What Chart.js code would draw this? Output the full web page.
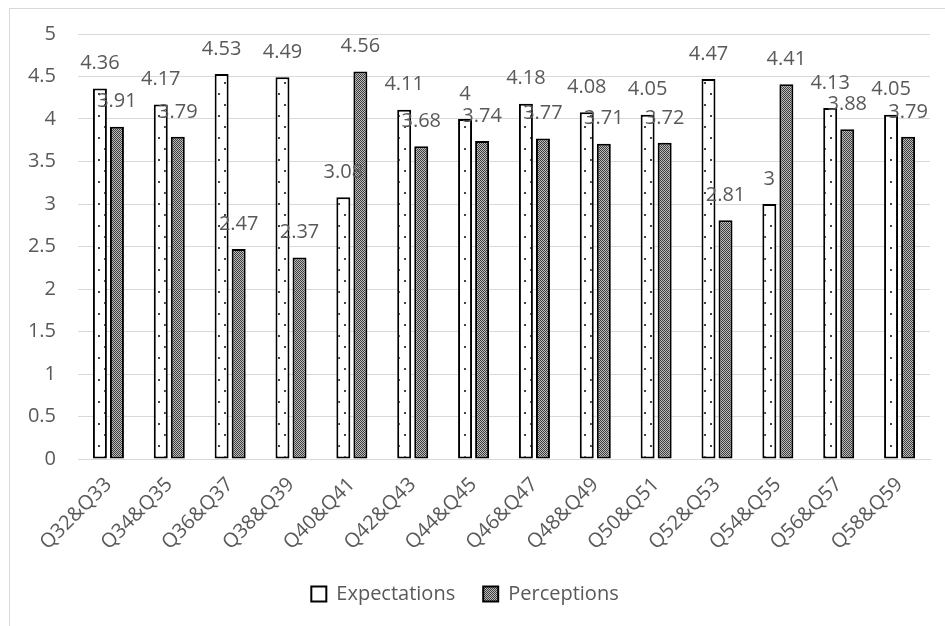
<!DOCTYPE html>
<html>
<head>
<meta charset="utf-8">
<script src="https://cdn.jsdelivr.net/npm/chart.js@4/dist/chart.umd.min.js"></script>
<style>
    body { margin: 0; background: #fff; }
    #wrap { position: relative; width: 945px; height: 626px; }
    #frame { position: absolute; left: 9px; top: 8px; width: 960px; height: 640px; border: 1px solid #d9d9d9; }
    canvas { position: absolute; left: 0; top: 0; }
</style>
</head>
<body>
<div id="wrap">
    <div id="frame"></div>
    <canvas id="myChart" width="945" height="626"></canvas>
</div>
<script>
const categories = ['Q32&Q33', 'Q34&Q35', 'Q36&Q37', 'Q38&Q39', 'Q40&Q41', 'Q42&Q43', 'Q44&Q45',
    'Q46&Q47', 'Q48&Q49', 'Q50&Q51', 'Q52&Q53', 'Q54&Q55', 'Q56&Q57', 'Q58&Q59'];
const expectations = [4.36, 4.17, 4.53, 4.49, 3.08, 4.11, 4, 4.18, 4.08, 4.05, 4.47, 3, 4.13, 4.05];
const perceptions = [3.91, 3.79, 2.47, 2.37, 4.56, 3.68, 3.74, 3.77, 3.71, 3.72, 2.81, 4.41, 3.88, 3.79];
const yTicks = [0, 0.5, 1, 1.5, 2, 2.5, 3, 3.5, 4, 4.5, 5];

const FONT = "'Open Sans', sans-serif";
const TEXT = '#595959';

// sparse dots on white
function dotPattern() {
    const c = document.createElement('canvas');
    c.width = 12; c.height = 22;
    const g = c.getContext('2d');
    g.fillStyle = '#fff';
    g.fillRect(0, 0, 12, 22);
    g.fillStyle = '#444';
    g.fillRect(2, 5, 2, 2);
    g.fillRect(8, 16, 2, 2);
    return g.createPattern(c, 'repeat');
}

// fine gray checker
function checkerPattern() {
    const c = document.createElement('canvas');
    c.width = 2; c.height = 2;
    const g = c.getContext('2d');
    g.fillStyle = '#bdbdbd';
    g.fillRect(0, 0, 2, 2);
    g.fillStyle = '#3c3c3c';
    g.fillRect(0, 0, 1, 1);
    g.fillRect(1, 1, 1, 1);
    return g.createPattern(c, 'repeat');
}

// value labels above each bar
const valueLabels = {
    id: 'valueLabels',
    afterDatasetsDraw(chart) {
        const ctx = chart.ctx;
        ctx.save();
        ctx.font = '20px ' + FONT;
        ctx.fillStyle = TEXT;
        ctx.textAlign = 'center';
        ctx.textBaseline = 'middle';
        chart.data.datasets.forEach((ds, i) => {
            chart.getDatasetMeta(i).data.forEach((bar, j) => {
                ctx.fillText(String(ds.data[j]), bar.x, bar.y - 25);
            });
        });
        ctx.restore();
    }
};

const ctx = document.getElementById('myChart').getContext('2d');
const myChart = new Chart(ctx, {
    type: 'bar',
    data: {
        labels: categories,
        datasets: [{
            label: 'Expectations',
            data: expectations,
            backgroundColor: dotPattern(),
            borderColor: '#000',
            borderWidth: 2,
            borderSkipped: false,
            barPercentage: 0.82,
            categoryPercentage: 0.56
        },
        {
            label: 'Perceptions',
            data: perceptions,
            backgroundColor: checkerPattern(),
            borderColor: '#000',
            borderWidth: 2,
            borderSkipped: false,
            barPercentage: 0.82,
            categoryPercentage: 0.56
        }]
    },
    options: {
        responsive: false,
        animation: false,
        layout: { padding: { left: 0, right: 15, top: 22, bottom: 12 } },
        plugins: {
            tooltip: { enabled: false },
            legend: {
                position: 'bottom',
                labels: {
                    font: { family: FONT, size: 20 },
                    color: TEXT,
                    boxWidth: 15,
                    boxHeight: 15,
                    padding: 28,
                    generateLabels: (chart) => {
                        const items = Chart.defaults.plugins.legend.labels.generateLabels(chart);
                        items[0].fillStyle = '#fff'; // plain box for Expectations
                        return items;
                    }
                }
            }
        },
        scales: {
            x: {
                grid: { display: false },
                border: { color: '#d9d9d9', width: 1 },
                ticks: {
                    font: { family: FONT, size: 20 },
                    color: TEXT,
                    minRotation: 45,
                    maxRotation: 45,
                    padding: 6
                },
                afterFit: (scale) => { scale.height = 97; }
            },
            y: {
                min: 0,
                max: 5,
                afterBuildTicks: (scale) => { scale.ticks = yTicks.map(v => ({ value: v })); },
                grid: { color: '#d9d9d9', lineWidth: 1, drawTicks: false },
                border: { display: false },
                ticks: {
                    font: { family: FONT, size: 20 },
                    color: TEXT,
                    padding: 22,
                    callback: (v) => String(v)
                },
                afterFit: (scale) => { scale.width = 78; }
            }
        }
    },
    plugins: [valueLabels]
});
</script>
</body>
</html>
